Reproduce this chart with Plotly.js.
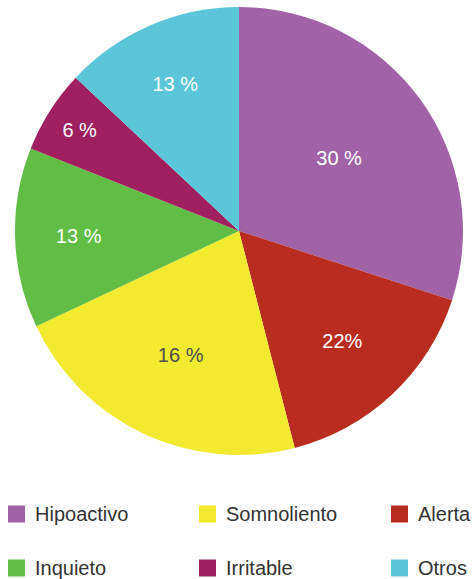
<!DOCTYPE html>
<html><head><meta charset="utf-8">
<script src="https://cdn.plot.ly/plotly-3.0.1.min.js"></script>
<style>html,body{margin:0;padding:0;background:#fff;}#chart{width:473px;height:579px;}</style>
</head><body><div id="chart"></div>
<script>
// Slices in drawing order (clockwise from 12 o'clock)
const categories = ["Hipoactivo", "Alerta", "Somnoliento", "Inquieto", "Irritable", "Otros"];
const values = [30, 16, 22, 13, 6, 13];
const sliceLabels = ["30 %", "22%", "16 %", "13 %", "6 %", "13 %"];
const colors = ["#A262A8", "#B92D20", "#F2EA2E", "#62BD47", "#9F1F5F", "#5BC6DA"];
const labelColors = ["#FFFFFF", "#FFFFFF", "#4D4D4D", "#FFFFFF", "#FFFFFF", "#FFFFFF"];
// Legend order (row by row)
const legendOrder = ["Hipoactivo", "Somnoliento", "Alerta", "Inquieto", "Irritable", "Otros"];

const W = 473, H = 579;
const trace = {
  type: "pie",
  labels: categories,
  values: values,
  text: sliceLabels,
  textinfo: "text",
  textposition: "inside",
  insidetextorientation: "horizontal",
  sort: false,
  direction: "clockwise",
  rotation: 0,
  marker: {colors: colors, line: {width: 0}},
  textfont: {family: "Liberation Sans, Arial, sans-serif", size: 20, color: labelColors},
  showlegend: false,
  hoverinfo: "label+percent",
  domain: {x: [15 / W, 463 / W], y: [124 / H, 572 / H]}
};

const colX = [8, 199, 391];
const rowY = [514, 568];
const shapes = [], annotations = [];
legendOrder.forEach((name, i) => {
  const col = i % 3, row = Math.floor(i / 3);
  const idx = categories.indexOf(name);
  const x0 = colX[col], yc = rowY[row];
  shapes.push({type: "rect", xref: "paper", yref: "paper",
    x0: x0 / W, x1: (x0 + 17) / W, y0: 1 - (yc + 8.5) / H, y1: 1 - (yc - 8.5) / H,
    fillcolor: colors[idx], line: {width: 0}});
  annotations.push({xref: "paper", yref: "paper", x: (x0 + 25) / W, y: 1 - yc / H,
    xanchor: "left", yanchor: "middle", showarrow: false, text: name,
    font: {family: "Liberation Sans, Arial, sans-serif", size: 20, color: "#333333"}});
});

Plotly.newPlot("chart", [trace], {
  width: W, height: H,
  margin: {l: 0, r: 0, t: 0, b: 0},
  paper_bgcolor: "#fff",
  shapes: shapes,
  annotations: annotations
}, {displayModeBar: false, staticPlot: true});
</script></body></html>
